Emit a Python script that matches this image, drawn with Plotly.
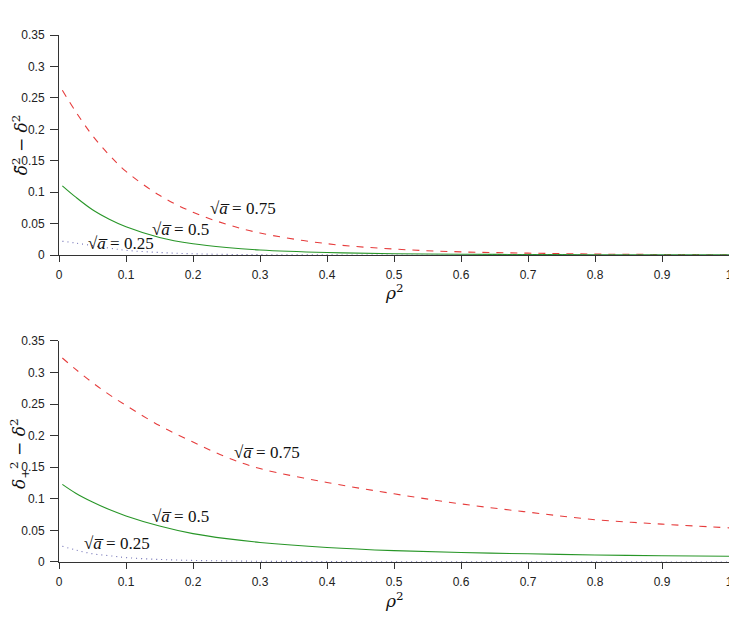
import plotly.graph_objects as go

rho2 = [0.005, 0.025, 0.05, 0.075, 0.1, 0.15, 0.2, 0.25, 0.3, 0.4, 0.5, 0.6, 0.7, 0.8, 0.9, 1.0]

# top panel: tilde-delta^2 - delta^2
top_a075 = [0.262, 0.228, 0.190, 0.159, 0.133, 0.095, 0.068, 0.049, 0.035, 0.018, 0.0095, 0.005, 0.003, 0.0015, 0.0008, 0.0004]
top_a050 = [0.110, 0.092, 0.072, 0.057, 0.045, 0.028, 0.018, 0.012, 0.008, 0.004, 0.002, 0.0012, 0.0008, 0.0005, 0.0003, 0.0002]
top_a025 = [0.022, 0.019, 0.015, 0.011, 0.0075, 0.004, 0.002, 0.001, 0.0006, 0.0002, 0.0001, 0.0001, 0.0, 0.0, 0.0, 0.0]

# bottom panel: delta_+^2 - delta^2
bot_a075 = [0.323, 0.305, 0.284, 0.265, 0.248, 0.216, 0.190, 0.166, 0.148, 0.126, 0.108, 0.092, 0.079, 0.067, 0.060, 0.054]
bot_a050 = [0.123, 0.109, 0.095, 0.083, 0.073, 0.057, 0.045, 0.037, 0.031, 0.023, 0.018, 0.015, 0.013, 0.011, 0.010, 0.009]
bot_a025 = [0.025, 0.019, 0.013, 0.010, 0.007, 0.004, 0.0025, 0.0017, 0.0012, 0.0006, 0.0004, 0.0003, 0.0002, 0.0002, 0.0001, 0.0001]

x_ticks = [0, 0.1, 0.2, 0.3, 0.4, 0.5, 0.6, 0.7, 0.8, 0.9, 1]
x_ticklabels = ["0", "0.1", "0.2", "0.3", "0.4", "0.5", "0.6", "0.7", "0.8", "0.9", "1"]
y_ticks = [0, 0.05, 0.1, 0.15, 0.2, 0.25, 0.3, 0.35]
y_ticklabels = ["0", "0.05", "0.1", "0.15", "0.2", "0.25", "0.3", "0.35"]

RED = "rgb(230,60,60)"
GREEN = "rgb(40,150,40)"
DOT = "rgb(110,110,180)"

fig = go.Figure()

def add_panel(xa, ya, y75, y50, y25):
    fig.add_trace(go.Scatter(x=rho2, y=y75, mode="lines", line=dict(color=RED, width=1.1, dash="7px,7px", shape="spline"),
                             xaxis=xa, yaxis=ya, showlegend=False))
    fig.add_trace(go.Scatter(x=rho2, y=y50, mode="lines", line=dict(color=GREEN, width=1.1, shape="spline"),
                             xaxis=xa, yaxis=ya, showlegend=False))
    fig.add_trace(go.Scatter(x=rho2, y=y25, mode="lines", line=dict(color=DOT, width=1.1, dash="1px,4px", shape="spline"),
                             xaxis=xa, yaxis=ya, showlegend=False))

add_panel("x", "y", top_a075, top_a050, top_a025)
add_panel("x2", "y2", bot_a075, bot_a050, bot_a025)

def axis_style(ticklen):
    return dict(
        showgrid=False, zeroline=False, showline=True, linecolor="#333", linewidth=1,
        ticks="outside", tickcolor="#333", ticklen=ticklen, ticklabelstandoff=3,
        tickfont=dict(family="Liberation Sans, Arial", size=12, color="#222"),
        automargin=False, ticklabeloverflow="allow",
    )

fig.update_layout(
    width=729, height=619,
    margin=dict(l=59, r=0, t=35, b=57),
    paper_bgcolor="white", plot_bgcolor="white",
    xaxis=dict(domain=[0, 1], range=[0, 1], tickvals=x_ticks, ticktext=x_ticklabels, anchor="y", **axis_style(6)),
    yaxis=dict(domain=[0.5825, 1], range=[0, 0.35], tickvals=y_ticks, ticktext=y_ticklabels, anchor="x", **axis_style(8)),
    xaxis2=dict(domain=[0, 1], range=[0, 1], tickvals=x_ticks, ticktext=x_ticklabels, anchor="y2", **axis_style(6)),
    yaxis2=dict(domain=[0, 0.4194], range=[0, 0.35], tickvals=y_ticks, ticktext=y_ticklabels, anchor="x2", **axis_style(8)),
)

lab_font = dict(family="Liberation Serif, DejaVu Serif", size=17, color="#111")
labels = [
    ("x", "y", 0.275, 0.0748, "√<i>a̅</i> = 0.75"),
    ("x", "y", 0.181, 0.0414, "√<i>a̅</i> = 0.5"),
    ("x", "y", 0.0925, 0.019, "√<i>a̅</i> = 0.25"),
    ("x2", "y2", 0.31, 0.174, "√<i>a̅</i> = 0.75"),
    ("x2", "y2", 0.181, 0.0713, "√<i>a̅</i> = 0.5"),
    ("x2", "y2", 0.0866, 0.030, "√<i>a̅</i> = 0.25"),
]
for xr, yr, x, y, t in labels:
    fig.add_annotation(xref=xr, yref=yr, x=x, y=y, text=t, showarrow=False, font=lab_font,
                       xanchor="center", yanchor="middle")

title_font = dict(family="DejaVu Serif, Liberation Serif", size=17, color="#111")
fig.add_annotation(xref="paper", yref="paper", x=0.5, y=0.513, text="<i>ρ</i><sup>2</sup>", showarrow=False,
                   font=title_font, xanchor="center", yanchor="middle")
fig.add_annotation(xref="paper", yref="paper", x=0.5, y=-0.073, text="<i>ρ</i><sup>2</sup>", showarrow=False,
                   font=title_font, xanchor="center", yanchor="middle")
fig.add_annotation(xref="paper", yref="paper", x=-0.058, y=0.791,
                   text="<i>δ̃</i><sup>2</sup> − <i>δ</i><sup>2</sup>",
                   textangle=-90, showarrow=False, font=title_font, xanchor="center", yanchor="middle")
fig.add_annotation(xref="paper", yref="paper", x=-0.058, y=0.205,
                   text="<i>δ</i><sub>+</sub><sup>2</sup> − <i>δ</i><sup>2</sup>",
                   textangle=-90, showarrow=False, font=title_font, xanchor="center", yanchor="middle")

fig.write_html("out.html")
